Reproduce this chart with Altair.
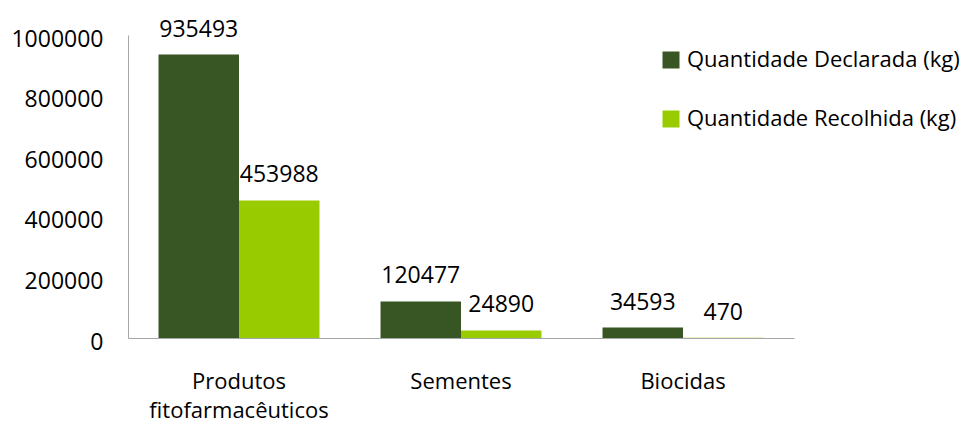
import altair as alt
import pandas as pd

categories = ["Produtos fitofarmacêuticos", "Sementes", "Biocidas"]
series = ["Quantidade Declarada (kg)", "Quantidade Recolhida (kg)"]
declarada = [935493, 120477, 34593]
recolhida = [453988, 24890, 470]
colors = ["#375623", "#99CC00"]

rows = []
for c, d, r in zip(categories, declarada, recolhida):
    rows.append({"cat": c, "serie": series[0], "valor": d})
    rows.append({"cat": c, "serie": series[1], "valor": r})
df = pd.DataFrame(rows)

FONT = "Open Sans"
FS = 23

x = alt.X("cat:N", sort=categories, title=None,
          scale=alt.Scale(paddingInner=0.275, paddingOuter=0.1375),
          axis=alt.Axis(labelAngle=0, ticks=False, domainColor="#A6A6A6",
                        labelFont=FONT, labelFontSize=22, labelColor="#000000",
                        labelPadding=33, labelLineHeight=29,
                        labelExpr="split(datum.label, ' ')"))
xo = alt.XOffset("serie:N", sort=series)
y = alt.Y("valor:Q", title=None,
          scale=alt.Scale(domain=[0, 1000000], nice=False),
          axis=alt.Axis(values=[0, 200000, 400000, 600000, 800000, 1000000],
                        format="d", grid=False, ticks=False,
                        domainColor="#A6A6A6", labelFont=FONT, labelFontSize=FS,
                        labelColor="#000000", labelPadding=25, labelOffset=4))

base = alt.Chart(df)

bars = base.mark_bar().encode(
    x=x, xOffset=xo, y=y,
    color=alt.Color("serie:N", sort=series,
                    scale=alt.Scale(domain=series, range=colors),
                    legend=alt.Legend(title=None, orient="none", legendX=532, legendY=14,
                                      symbolType="square", symbolSize=289,
                                      symbolStrokeWidth=0, labelLimit=0,
                                      labelFont=FONT, labelFontSize=22,
                                      labelColor="#000000", labelOffset=5,
                                      rowPadding=37, padding=0)),
)

labels = base.mark_text(baseline="alphabetic", dy=-18, font=FONT, fontSize=FS,
                        color="#000000").encode(
    x=x, xOffset=xo, y=y, text=alt.Text("valor:Q", format="d"))

chart = (bars + labels).properties(
    width=666, height=303,
    autosize=alt.AutoSizeParams(type="none"),
    padding={"left": 120, "top": 27, "right": 173, "bottom": 84},
).configure_view(stroke=None)

chart.save("out.html", embed_options={"renderer": "svg", "actions": False})
